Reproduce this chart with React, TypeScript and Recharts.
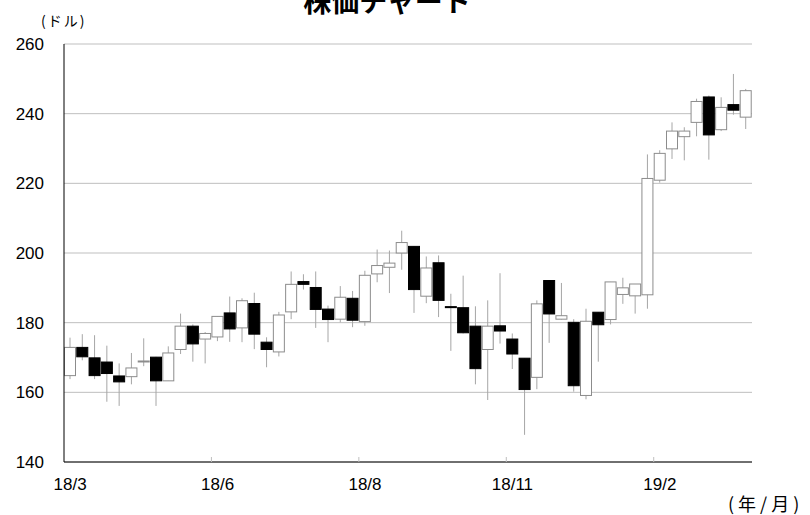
import { ComposedChart, Bar, XAxis, YAxis, CartesianGrid } from 'recharts'

// weekly OHLC (dollars)
const opens = [
  164.8, 172.9, 169.9, 168.7, 164.7, 164.5, 168.8, 170.1, 163.3, 172.3, 179.0, 175.3, 175.9, 182.8,
  178.5, 185.5, 174.4, 171.6, 183.1, 191.8, 190.1, 183.9, 181.0, 187.0, 180.3, 194.0, 195.9, 200.0,
  201.9, 187.6, 197.2, 184.6, 184.3, 179.0, 172.3, 179.1, 175.3, 169.8, 164.3, 192.1, 181.0, 180.1,
  159.1, 183.0, 180.9, 188.1, 187.7, 188.0, 220.9, 229.9, 233.4, 237.5, 244.8, 235.4, 242.6, 239.0,
]
const highs = [
  175.7, 176.7, 176.4, 173.4, 168.3, 171.3, 175.5, 170.2, 173.2, 182.6, 179.5, 177.3, 181.8, 187.5,
  187.0, 188.6, 175.8, 183.1, 194.7, 193.9, 194.7, 184.9, 190.5, 189.1, 194.9, 201.0, 200.7, 206.4,
  202.0, 199.0, 199.3, 188.3, 193.5, 184.7, 186.4, 194.2, 176.9, 169.8, 186.4, 192.1, 191.4, 181.0,
  184.0, 183.0, 191.7, 192.9, 191.1, 228.3, 229.5, 237.5, 236.1, 244.3, 245.2, 244.7, 251.4, 247.1,
]
const lows = [
  163.8, 169.2, 163.8, 157.3, 156.1, 162.3, 167.5, 156.1, 163.3, 171.0, 168.8, 168.3, 174.7, 174.5,
  174.4, 172.4, 167.2, 170.3, 181.0, 189.5, 178.5, 174.4, 180.1, 178.7, 179.1, 191.6, 188.5, 195.2,
  182.8, 185.6, 181.6, 171.9, 176.9, 162.3, 157.8, 174.0, 166.7, 147.8, 160.9, 174.2, 180.9, 160.2,
  158.0, 168.8, 179.5, 185.4, 182.6, 184.0, 220.2, 227.0, 226.6, 233.5, 226.8, 235.0, 239.7, 235.6,
]
const closes = [
  172.9, 170.2, 164.8, 165.4, 163.0, 167.0, 169.0, 163.3, 171.3, 179.0, 173.9, 176.9, 181.8, 178.2,
  186.3, 176.7, 172.3, 182.2, 191.0, 191.0, 183.8, 180.9, 187.3, 180.7, 193.6, 196.4, 197.1, 203.0,
  189.5, 195.7, 186.4, 184.4, 177.1, 166.8, 179.0, 177.6, 171.0, 160.8, 185.4, 182.5, 182.0, 161.9,
  180.4, 179.4, 191.7, 190.0, 191.1, 221.4, 228.6, 235.0, 235.0, 243.5, 233.9, 241.8, 241.0, 246.6,
]

// a label every 12 weeks
const tickLabels = ['18/3', '18/6', '18/8', '18/11', '19/2']
const labelEvery = 12
const yTicks = [140, 160, 180, 200, 220, 240, 260]

const data = opens.map((o, i) => ({
  idx: i,
  open: o,
  close: closes[i],
  high: highs[i],
  low: lows[i],
  range: [lows[i], highs[i]],
}))

const W = 810
const H = 515
const margin = { top: 44, right: 58, bottom: 23, left: 8 }
const yAxisWidth = 56
const plotWidth = W - margin.left - margin.right - yAxisWidth
const step = plotWidth / data.length

const numFont = '"Liberation Sans", Arial, sans-serif'
const jpFont = '"Noto Sans CJK JP", sans-serif'

const Candle = (props: any) => {
  const { x, y, width, height, payload } = props
  const top = Math.min(y, y + height)
  const h = Math.abs(height)
  const span = payload.high - payload.low
  const px = span > 0 ? h / span : 0
  const yOpen = top + (payload.high - payload.open) * px
  const yClose = top + (payload.high - payload.close) * px
  const up = payload.close >= payload.open
  const bodyTop = Math.min(yOpen, yClose)
  const bodyH = Math.max(Math.abs(yClose - yOpen), 1)
  const cx = x + width / 2
  return (
    <g>
      <line x1={cx} x2={cx} y1={top} y2={top + h} stroke="#a6a6a6" strokeWidth={1} />
      <rect
        x={x + 0.5}
        y={bodyTop}
        width={width - 1}
        height={bodyH}
        fill={up ? '#ffffff' : '#000000'}
        stroke={up ? '#8c8c8c' : '#000000'}
        strokeWidth={1}
      />
    </g>
  )
}

const XTick = (props: any) => {
  const { x, y, payload } = props
  const i = payload.value
  if (i % labelEvery !== 0) return <g />
  const label = tickLabels[i / labelEvery]
  const bx = x - step / 2
  return (
    <g>
      {i > 0 && <line x1={bx} x2={bx} y1={y} y2={y - 5} stroke="#bfbfbf" />}
      <text x={x} y={y} dy={28} textAnchor="middle" fontSize={17} fontFamily={numFont} fill="#000">
        {label}
      </text>
    </g>
  )
}

export default function App() {
  return (
    <div style={{ position: 'absolute', left: 0, top: 0, width: W, height: H, background: '#fff', overflow: 'hidden' }}>
      <ComposedChart width={W} height={H} data={data} margin={margin} barCategoryGap={0} barGap={0}>
        <CartesianGrid vertical={false} stroke="#bfbfbf" />
        <XAxis
          dataKey="idx"
          type="category"
          interval={0}
          height={30}
          tickSize={0}
          tickMargin={0}
          tick={<XTick />}
          axisLine={{ stroke: '#000' }}
          tickLine={false}
        />
        <YAxis
          width={yAxisWidth}
          domain={[140, 260]}
          ticks={yTicks}
          tickSize={0}
          tickMargin={20}
          tickLine={false}
          axisLine={{ stroke: '#000' }}
          tick={{ fontSize: 17, fill: '#000', fontFamily: numFont }}
        />
        <Bar dataKey="range" shape={<Candle />} isAnimationActive={false} />
      </ComposedChart>
      <div
        style={{
          position: 'absolute', left: 0, width: 774, top: -18, textAlign: 'center',
          fontSize: 28, fontWeight: 'bold', fontFamily: jpFont, lineHeight: '36px',
        }}
      >
        株価チャート
      </div>
      <div
        style={{
          position: 'absolute', left: 41, top: 11, fontSize: 14, letterSpacing: 2,
          fontFamily: jpFont, lineHeight: '18px', whiteSpace: 'nowrap',
        }}
      >
        (ドル)
      </div>
      <div
        style={{
          position: 'absolute', left: 728, top: 493, fontSize: 18, letterSpacing: 4,
          fontFamily: jpFont, lineHeight: '21px', whiteSpace: 'nowrap',
        }}
      >
        (年/月)
      </div>
    </div>
  )
}
